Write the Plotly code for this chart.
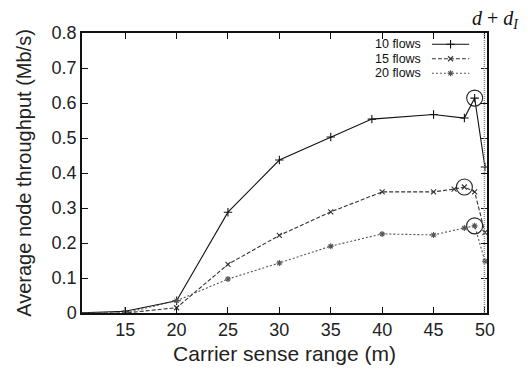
import plotly.graph_objects as go

# ---- data ----
x10 = [10, 15, 20, 25, 30, 35, 39, 45, 48, 49, 50]
y10 = [0.0, 0.005, 0.035, 0.288, 0.437, 0.503, 0.554, 0.567, 0.557, 0.614, 0.417]

x15 = [10, 15, 20, 25, 30, 35, 40, 45, 47, 48, 49, 50]
y15 = [0.0, 0.0, 0.015, 0.139, 0.222, 0.289, 0.346, 0.346, 0.354, 0.36, 0.346, 0.23]

x20 = [10, 15, 20, 25, 30, 35, 40, 45, 48, 49, 50]
y20 = [0.0, 0.0, 0.035, 0.097, 0.143, 0.191, 0.226, 0.223, 0.243, 0.249, 0.148]

peak_x = [49, 48, 49]
peak_y = [0.614, 0.36, 0.249]

series_names = ["10 flows", "15 flows", "20 flows"]
x_ticks = [15, 20, 25, 30, 35, 40, 45, 50]
dI_position = 49.95

# legend sample positions (in a hidden 0..1 overlay axis)
leg_rows = [0.960, 0.908, 0.856]

styles = [
    dict(color="#111111", dash="solid", symbol="cross-thin", size=6),
    dict(color="#333333", dash="4px,2px", symbol="x-thin", size=5),
    dict(color="#555555", dash="2px,2px", symbol="asterisk", size=5),
]

fig = go.Figure()
for xs, ys, st in zip([x10, x15, x20], [y10, y15, y20], styles):
    fig.add_trace(go.Scatter(
        x=xs, y=ys, mode="lines+markers",
        line=dict(color=st["color"], width=1.1, dash=st["dash"]),
        marker=dict(symbol=st["symbol"], size=st["size"],
                    line=dict(color=st["color"], width=1.1), color=st["color"]),
        showlegend=False, cliponaxis=True))

fig.add_trace(go.Scatter(
    x=peak_x, y=peak_y, mode="markers",
    marker=dict(symbol="circle-open", size=16, color="#222222",
                line=dict(width=1.1, color="#222222")),
    showlegend=False))

# custom gnuplot-style legend (text then sample)
lx0, lx1 = 0.864, 0.956
for name, ry, st in zip(series_names, leg_rows, styles):
    fig.add_shape(type="line", xref="paper", yref="paper",
                  x0=lx0, x1=lx1, y0=ry, y1=ry,
                  line=dict(color=st["color"], width=1.1, dash=st["dash"]))
    fig.add_annotation(text=name, xref="paper", yref="paper",
                       x=0.843, y=ry, xanchor="right", yanchor="middle",
                       showarrow=False,
                       font=dict(family="Liberation Sans, Arial", size=12.5, color="#111"))
    fig.add_trace(go.Scatter(
        x=[(lx0 + lx1) / 2], y=[ry], xaxis="x2", yaxis="y2", mode="markers",
        marker=dict(symbol=st["symbol"], size=st["size"], color=st["color"],
                    line=dict(color=st["color"], width=1.1)),
        showlegend=False, hoverinfo="skip"))

# d + d_I boundary line
fig.add_shape(type="line", xref="x", yref="y",
              x0=dI_position, x1=dI_position, y0=0, y1=0.8,
              line=dict(color="#888888", width=1.5, dash="1px,1px"))
fig.add_annotation(text="<i>d</i> + <i>d<sub>I</sub></i>", xref="paper", yref="paper",
                   x=1.083, y=1.047, xanchor="right", yanchor="middle",
                   showarrow=False,
                   font=dict(family="Liberation Serif, Times New Roman", size=20, color="#111"))

tick_font = dict(family="Liberation Sans, Arial", size=18, color="#222")
xtitle_font = dict(family="Liberation Sans, Arial", size=21, color="#222")
ytitle_font = dict(family="Liberation Sans, Arial", size=20, color="#222")
fig.update_layout(
    width=528, height=369,
    margin=dict(l=82, r=41, t=33, b=56, autoexpand=False),
    paper_bgcolor="white", plot_bgcolor="white",
    xaxis=dict(range=[10.8, 50.2], tickvals=x_ticks, ticks="inside", ticklen=6,
               tickcolor="#111", showline=True, linecolor="#111", linewidth=1.5,
               mirror="ticks", showgrid=False, zeroline=False, automargin=False,
               tickfont=tick_font,
               title=dict(text="Carrier sense range (m)", font=xtitle_font, standoff=7)),
    yaxis=dict(range=[0, 0.8], dtick=0.1, ticks="inside", ticklen=6,
               tickcolor="#111", showline=True, linecolor="#111", linewidth=1.5,
               mirror="ticks", showgrid=False, zeroline=False, automargin=False,
               tickfont=tick_font,
               title=dict(text="Average node throughput (Mb/s)", font=ytitle_font, standoff=15)),
    xaxis2=dict(range=[0, 1], overlaying="x", visible=False, fixedrange=True),
    yaxis2=dict(range=[0, 1], overlaying="y", visible=False, fixedrange=True),
)

fig.write_html("out.html", config={"displayModeBar": False},
               post_script="document.body.style.margin='0px';")
